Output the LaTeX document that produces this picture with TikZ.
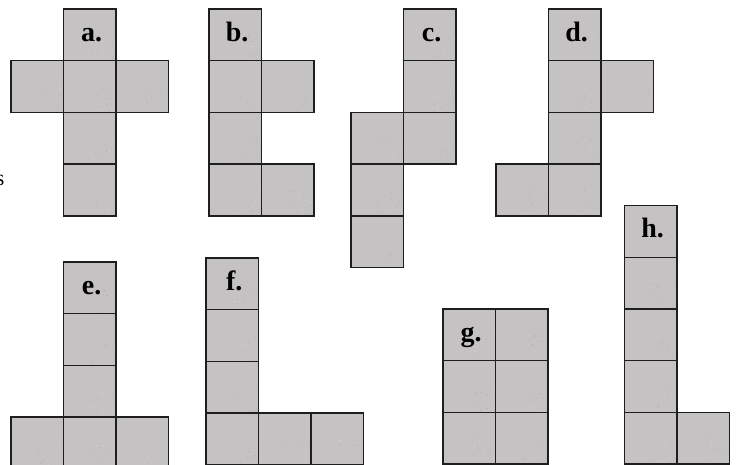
\documentclass[tikz,border=0pt]{standalone}
\usepackage{fontspec}
\setmainfont{Liberation Serif}
\definecolor{stone}{RGB}{196,194,194}
\definecolor{stonedark}{RGB}{165,162,162}
\definecolor{stonelight}{RGB}{218,216,216}
\definecolor{edgecol}{RGB}{30,30,30}
\tikzset{
  cell/.style={draw=edgecol, fill=stone, line width=1.4pt, minimum width=52.4pt,
    minimum height=51.7pt, inner sep=0pt, outer sep=0pt, anchor=north west,
    path picture={
      \foreach \k in {1,...,45}{
        \fill[stonedark, shift={(path picture bounding box.north west)}]
          ({rnd*52.4},{rnd*51.7}) circle (0.35pt);
        \fill[stonelight, shift={(path picture bounding box.north west)}]
          ({rnd*52.4},{rnd*51.7}) circle (0.35pt);
      }}},
  lbl/.style={font=\bfseries\fontsize{28}{28}\selectfont, anchor=base, inner sep=0pt, text=black},
}
\newcommand\drawnet[4]{%
  \foreach \c/\r [count=\i] in {#4}
    \node[cell] (#1\i) at ({#2+\c*52.4},{#3+\r*51.7}) {};}
\begin{document}
\begin{tikzpicture}[x=1pt,y=-1pt]
\pgfmathsetseed{7}
\useasboundingbox (0,0) rectangle (737,464);
\clip (0,0) rectangle (737,464);
% nets
\drawnet{a}{11}{9}{1/0,0/1,1/1,2/1,1/2,1/3}
\drawnet{b}{209}{9}{0/0,0/1,1/1,0/2,0/3,1/3}
\drawnet{c}{351}{9}{1/0,1/1,0/2,1/2,0/3,0/4}
\drawnet{d}{496}{9}{1/0,1/1,2/1,1/2,0/3,1/3}
\drawnet{e}{11}{262}{1/0,1/1,1/2,0/3,1/3,2/3}
\drawnet{f}{206}{258}{0/0,0/1,0/2,0/3,1/3,2/3}
\drawnet{g}{443}{309}{0/0,1/0,0/1,1/1,0/2,1/2}
\drawnet{h}{624.5}{205.5}{0/0,0/1,0/2,0/3,0/4,1/4}
% labels
\foreach \n/\t in {a/a.,b/b.,c/c.,d/d.,e/e.,f/f.,g/g.,h/h.}
  \node[lbl] (l\n) at ([xshift=2pt,yshift=-6.5pt]\n1.center) {\t};
% cut-off letter at the left edge (as in the reference)
\node[font=\fontsize{22}{22}\selectfont, anchor=base east, inner sep=0pt] (s) at (4.6,185.5) {s};
\end{tikzpicture}
\end{document}
